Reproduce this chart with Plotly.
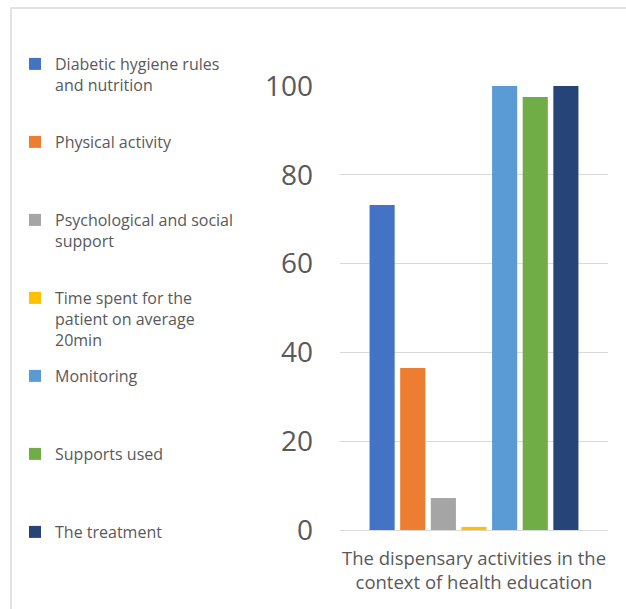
import plotly.graph_objects as go

category = "The dispensary activities in the<br>context of health education"
series_names = [
    "Diabetic hygiene rules<br>and nutrition<br> ",
    "Physical activity<br> <br> ",
    "Psychological and social<br>support<br> ",
    "Time spent for the<br>patient on average<br>20min",
    "Monitoring<br> <br> ",
    "Supports used<br> <br> ",
    "The treatment<br> <br> ",
]
values = [73.2, 36.5, 7.2, 0.7, 100, 97.5, 100]
colors = ["#4472C4", "#ED7D31", "#A5A5A5", "#FFC000", "#5B9BD5", "#70AD47", "#264478"]
y_ticks = [0, 20, 40, 60, 80, 100]

fig = go.Figure()
for i, (name, v, c) in enumerate(zip(series_names, values, colors)):
    fig.add_trace(go.Bar(
        x=[category], y=[v], name=name, marker=dict(color=c, line=dict(width=0)),
        legendgroup=f"g{i}", hoverinfo="skip",
    ))

W, H = 626, 609
L, R, T, B = 340, 18, 86, 79
pw, ph = W - L - R, H - T - B

def px(x):
    return (x - L) / pw

def py(y):
    return 1 - (y - T) / ph

fig.update_layout(
    width=W, height=H,
    margin=dict(l=L, r=R, t=T, b=B, pad=0),
    paper_bgcolor="white", plot_bgcolor="white",
    barmode="group", bargap=0.20, bargroupgap=0.18,
    font=dict(family="Open Sans", color="#595959"),
    showlegend=True,
    legend=dict(
        x=px(15), xanchor="left", y=py(47), yanchor="top",
        font=dict(size=16, color="#595959", family="Open Sans"),
        tracegroupgap=12.6, valign="top", bgcolor="rgba(0,0,0,0)",
        borderwidth=0, itemclick=False, itemdoubleclick=False,
        maxheight=600,
    ),
    xaxis=dict(
        showgrid=False, showline=True, linecolor="#d9d9d9", linewidth=1,
        ticks="", tickfont=dict(size=18.5, color="#595959"), ticklabelstandoff=12,
        fixedrange=True,
    ),
    yaxis=dict(
        range=[0, 100], tickvals=y_ticks, showgrid=True, gridcolor="#d9d9d9",
        gridwidth=1, zeroline=False, showline=False, ticks="",
        tickfont=dict(size=28, color="#595959"), ticklabelstandoff=26,
        fixedrange=True,
    ),
    shapes=[dict(
        type="rect", xref="paper", yref="paper",
        x0=px(11), x1=px(640), y0=py(640), y1=py(8),
        line=dict(color="#d9d9d9", width=1.5), fillcolor="rgba(0,0,0,0)", layer="below",
    )],
)

fig.write_html("out.html", config={"displayModeBar": False})
